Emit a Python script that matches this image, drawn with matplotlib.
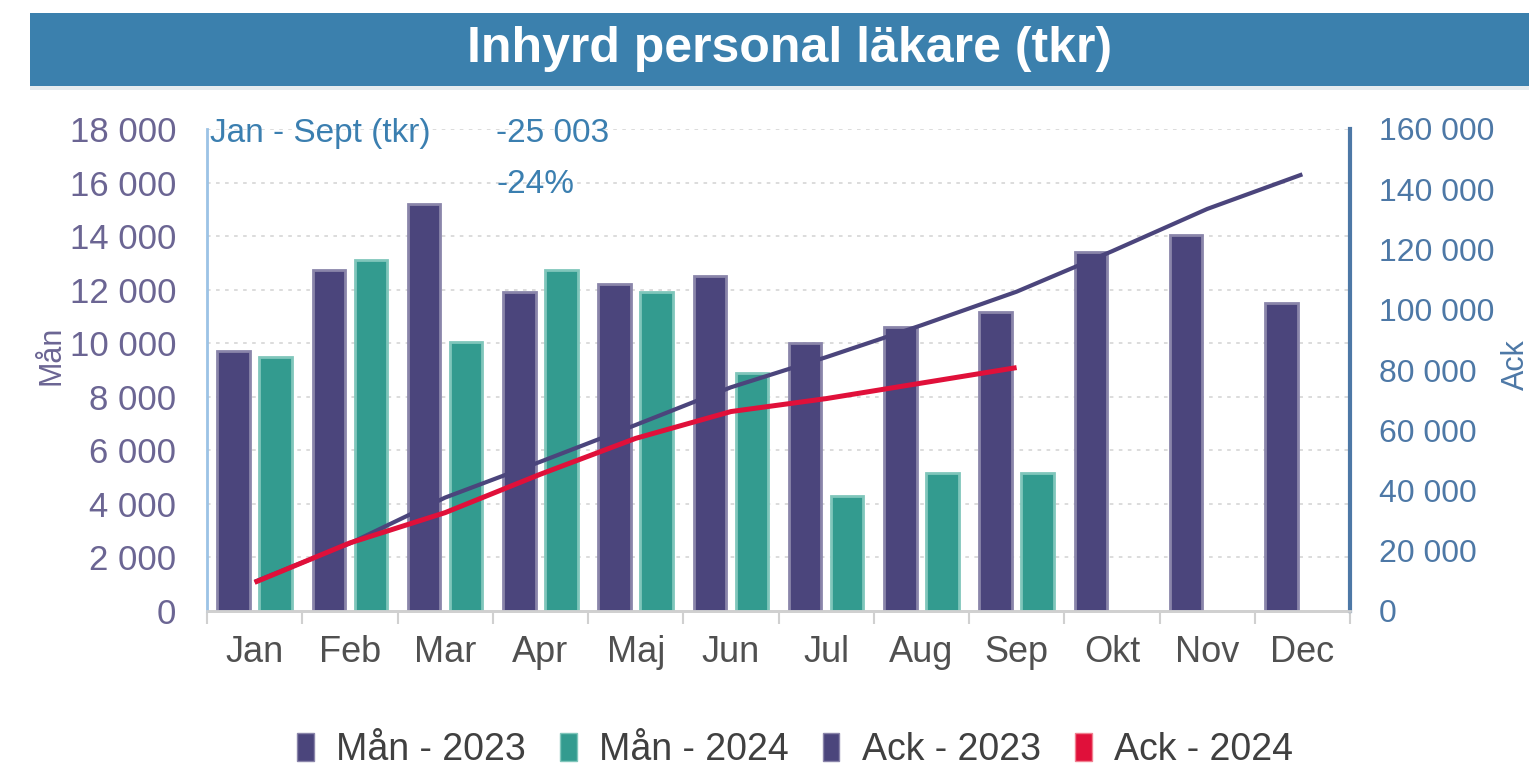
import matplotlib.pyplot as plt
from matplotlib.patches import Rectangle
from matplotlib.ticker import FuncFormatter, MultipleLocator

plt.rcParams['font.family'] = ['Liberation Sans', 'DejaVu Sans']

# data (tkr)
months = ["Jan", "Feb", "Mar", "Apr", "Maj", "Jun", "Jul", "Aug", "Sep", "Okt", "Nov", "Dec"]
man_2023 = [9700, 12750, 15200, 11900, 12200, 12500, 10000, 10600, 11150, 13400, 14050, 11500]
man_2024 = [9500, 13100, 10050, 12750, 11900, 8900, 4300, 5150, 5150]
ack_2023 = [9700, 22450, 37650, 49550, 61750, 74250, 84250, 94850, 106000, 119400, 133450, 144950]
ack_2024 = [9500, 22600, 32650, 45400, 57300, 66200, 70500, 75650, 80800]
diff_text = "-25 003"
pct_text = "-24%"

C_23 = "#4b457c"
C_24 = "#339b8f"
C_RED = "#e0103a"
C_BLUE_TXT = "#3b7fb0"
C_LEFT = "#6b6593"
C_RIGHT = "#4d78a6"

def space_thousands(v, pos):
    return "{:,.0f}".format(v).replace(",", " ")

fig = plt.figure(figsize=(15.29, 7.72), dpi=100)

# title banner
fig.patches.append(Rectangle((30 / 1529, 1 - 86 / 772), 1, 73 / 772, transform=fig.transFigure,
                             facecolor="#3b80ad", edgecolor="none", zorder=0))
fig.patches.append(Rectangle((30 / 1529, 1 - 90 / 772), 1, 4 / 772, transform=fig.transFigure,
                             facecolor="#e6ecef", edgecolor="none", zorder=0))
fig.text(790 / 1529, 1 - 49 / 772, "Inhyrd personal läkare (tkr)", color="white",
         fontsize=36, fontweight="bold", ha="center", va="center")

ax = fig.add_axes([207 / 1529, 1 - 611 / 772, 1143 / 1529, 482 / 772])
ax2 = ax.twinx()

x23 = [i - 0.22 for i in range(len(man_2023))]
x24 = [i + 0.22 for i in range(len(man_2024))]
ax.bar(x23, man_2023, width=0.34, color=C_23, edgecolor="#8a85aa", linewidth=2, zorder=3)
ax.bar(x24, man_2024, width=0.34, color=C_24, edgecolor="#80c6bb", linewidth=2, zorder=3)

ax2.plot(range(len(ack_2023)), ack_2023, color=C_23, linewidth=3.0, solid_capstyle="butt", zorder=4)
ax2.plot(range(len(ack_2024)), ack_2024, color=C_RED, linewidth=3.6, solid_capstyle="butt", zorder=5)

ax.set_xlim(-0.5, 11.5)
ax.set_ylim(0, 18000)
ax2.set_ylim(0, 160000)
ax.yaxis.set_major_locator(MultipleLocator(2000))
ax2.yaxis.set_major_locator(MultipleLocator(20000))
ax.yaxis.set_major_formatter(FuncFormatter(space_thousands))
ax2.yaxis.set_major_formatter(FuncFormatter(space_thousands))

ax.grid(axis="y", color="#d9d9d9", linestyle=(0, (2, 3)), linewidth=1.3, zorder=0)
ax.set_axisbelow(True)

ax.set_xticks(range(12))
ax.set_xticklabels(months)
ax.set_xticks([i - 0.5 for i in range(13)], minor=True)
ax.tick_params(axis="x", which="major", length=0, labelsize=26, labelcolor="#505050", pad=17)
ax.tick_params(axis="x", which="minor", length=9, width=1.5, color="#d0d0d0")
ax.tick_params(axis="y", length=0, labelsize=25, labelcolor=C_LEFT, pad=22)
ax2.tick_params(axis="y", length=0, labelsize=23, labelcolor=C_RIGHT, pad=21)

for a in (ax, ax2):
    a.spines["top"].set_visible(False)
    a.spines["bottom"].set_color("#d0d0d0")
    a.spines["bottom"].set_linewidth(2)
ax.spines["right"].set_visible(False)
ax2.spines["left"].set_color("#9cc3e6")
ax2.spines["left"].set_linewidth(2)
ax2.spines["right"].set_color(C_RIGHT)
ax2.spines["right"].set_linewidth(3)

fig.text(52 / 1529, 1 - 355 / 772, "Mån", fontsize=22, color=C_LEFT, rotation=90,
         ha="center", va="center")
fig.text(1516 / 1529, 1 - 365 / 772, "Ack", fontsize=22, color=C_RIGHT, rotation=90,
         ha="center", va="center")

ax.text(0.003, 0.99, "Jan - Sept (tkr)", transform=ax.transAxes, color=C_BLUE_TXT,
        fontsize=24, ha="left", va="center")
ax.text(0.253, 0.99, diff_text, transform=ax.transAxes, color=C_BLUE_TXT,
        fontsize=24, ha="left", va="center")
ax.text(0.253, 0.885, pct_text, transform=ax.transAxes, color=C_BLUE_TXT,
        fontsize=24, ha="left", va="center")

handles = [Rectangle((0, 0), 1, 1, facecolor=C_23, edgecolor="#8a85aa"),
           Rectangle((0, 0), 1, 1, facecolor=C_24, edgecolor="#80c6bb"),
           Rectangle((0, 0), 1, 1, facecolor=C_23, edgecolor="#8a85aa"),
           Rectangle((0, 0), 1, 1, facecolor=C_RED, edgecolor="#f08090")]
labels = ["Mån - 2023", "Mån - 2024", "Ack - 2023", "Ack - 2024"]
leg = fig.legend(handles, labels, loc="center", bbox_to_anchor=(795 / 1529, 1 - 750 / 772),
                 ncol=4, frameon=False, fontsize=27, handlelength=0.45, handleheight=0.75,
                 handletextpad=0.6, columnspacing=0.9, borderpad=0.2)
for t in leg.get_texts():
    t.set_color("#404040")

fig.savefig("out.png", dpi=100)
